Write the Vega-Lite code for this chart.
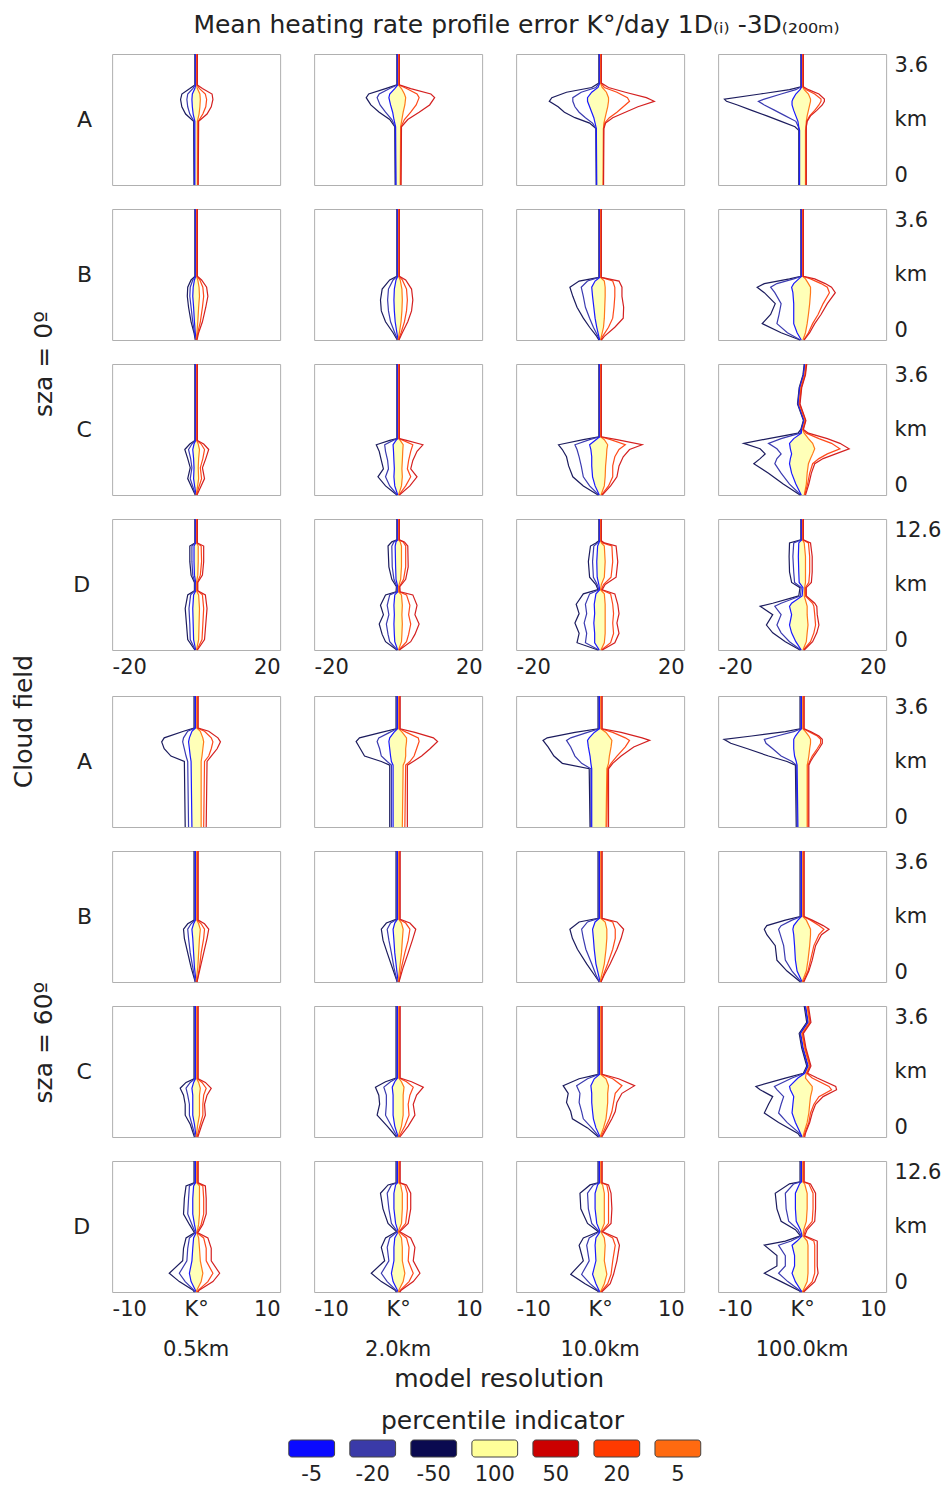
{
  "$schema": "https://vega.github.io/schema/vega-lite/v6.json",
  "padding": {"left": 12, "top": 13, "right": 2, "bottom": 2},
  "title": {"text": "Mean heating rate profile error K°/day  1D₍ᵢ₎ -3D₍₂₀₀ₘ₎", "fontSize": 25, "anchor": "middle", "offset": 13, "dx": 40},
  "resolve": {"scale": {"color": "independent"}},
  "config": {
    "font": "DejaVu Sans",
    "view": {"stroke": "#b0b0b0", "strokeWidth": 1},
    "facet": {"spacing": 32},
    "concat": {"spacing": 18},
    "axis": {"domain": false, "ticks": false, "grid": false, "labelFontSize": 21, "labelColor": "#222", "labelFont": "DejaVu Sans", "labelFlush": true, "labelPadding": 7},
    "header": {"labelFontSize": 22, "labelColor": "#222", "labelFont": "DejaVu Sans", "titleFont": "DejaVu Sans", "titleFontSize": 25, "titleColor": "#222", "titleFontWeight": "normal"},
    "title": {"font": "DejaVu Sans", "fontWeight": "normal", "color": "#222", "fontSize": 25}
  },
  "data": {"values": [
    {"g":0,"f":"A","r":"0.5km","h":3.6,"m50":-0.3,"m20":-0.2,"m5":-0.1,"p5":0.1,"p20":0.2,"p50":0.3},
    {"g":0,"f":"A","r":"0.5km","h":2.75,"m50":-0.3,"m20":-0.2,"m5":-0.1,"p5":0.1,"p20":0.2,"p50":0.3},
    {"g":0,"f":"A","r":"0.5km","h":2.65,"m50":-1.5,"m20":-0.8,"m5":-0.3,"p5":0.3,"p20":0.8,"p50":1.5},
    {"g":0,"f":"A","r":"0.5km","h":2.5,"m50":-3.4,"m20":-2,"m5":-0.9,"p5":0.9,"p20":2.2,"p50":3.8},
    {"g":0,"f":"A","r":"0.5km","h":2.35,"m50":-3.7,"m20":-2.2,"m5":-1,"p5":1,"p20":2.5,"p50":4},
    {"g":0,"f":"A","r":"0.5km","h":2.15,"m50":-3.4,"m20":-2,"m5":-0.9,"p5":0.9,"p20":2.3,"p50":3.6},
    {"g":0,"f":"A","r":"0.5km","h":1.95,"m50":-2.5,"m20":-1.5,"m5":-0.7,"p5":0.7,"p20":1.6,"p50":2.6},
    {"g":0,"f":"A","r":"0.5km","h":1.75,"m50":-0.6,"m20":-0.5,"m5":-0.3,"p5":0.3,"p20":0.5,"p50":0.6},
    {"g":0,"f":"A","r":"0.5km","h":0,"m50":-0.5,"m20":-0.4,"m5":-0.3,"p5":0.3,"p20":0.4,"p50":0.5},

    {"g":0,"f":"A","r":"2.0km","h":3.6,"m50":-0.3,"m20":-0.2,"m5":-0.1,"p5":0.1,"p20":0.2,"p50":0.3},
    {"g":0,"f":"A","r":"2.0km","h":2.75,"m50":-0.3,"m20":-0.2,"m5":-0.1,"p5":0.1,"p20":0.2,"p50":0.3},
    {"g":0,"f":"A","r":"2.0km","h":2.65,"m50":-3,"m20":-2,"m5":-0.8,"p5":0.8,"p20":2,"p50":3},
    {"g":0,"f":"A","r":"2.0km","h":2.5,"m50":-7,"m20":-4.5,"m5":-2,"p5":1.5,"p20":4.5,"p50":7.8},
    {"g":0,"f":"A","r":"2.0km","h":2.4,"m50":-7.6,"m20":-5,"m5":-2.2,"p5":1.8,"p20":5,"p50":8.7},
    {"g":0,"f":"A","r":"2.0km","h":2.2,"m50":-6.5,"m20":-4.3,"m5":-1.8,"p5":1.6,"p20":4.3,"p50":7.5},
    {"g":0,"f":"A","r":"2.0km","h":2,"m50":-4.5,"m20":-3,"m5":-1.3,"p5":1.2,"p20":3,"p50":5},
    {"g":0,"f":"A","r":"2.0km","h":1.8,"m50":-2,"m20":-1.5,"m5":-1,"p5":0.9,"p20":1.5,"p50":2.3},
    {"g":0,"f":"A","r":"2.0km","h":1.6,"m50":-0.8,"m20":-0.7,"m5":-0.6,"p5":0.6,"p20":0.7,"p50":0.8},
    {"g":0,"f":"A","r":"2.0km","h":0,"m50":-0.7,"m20":-0.6,"m5":-0.5,"p5":0.5,"p20":0.6,"p50":0.7},

    {"g":0,"f":"A","r":"10.0km","h":3.6,"m50":-0.3,"m20":-0.2,"m5":-0.1,"p5":0.1,"p20":0.2,"p50":0.3},
    {"g":0,"f":"A","r":"10.0km","h":2.8,"m50":-0.3,"m20":-0.2,"m5":-0.1,"p5":0.1,"p20":0.2,"p50":0.3},
    {"g":0,"f":"A","r":"10.0km","h":2.68,"m50":-2,"m20":-1,"m5":-0.5,"p5":0.5,"p20":1,"p50":2},
    {"g":0,"f":"A","r":"10.0km","h":2.55,"m50":-8,"m20":-4.5,"m5":-2,"p5":1.5,"p20":4,"p50":6},
    {"g":0,"f":"A","r":"10.0km","h":2.4,"m50":-11.5,"m20":-6.5,"m5":-3,"p5":2,"p20":6.5,"p50":11},
    {"g":0,"f":"A","r":"10.0km","h":2.3,"m50":-12.1,"m20":-6.5,"m5":-3,"p5":2,"p20":7,"p50":12.9},
    {"g":0,"f":"A","r":"10.0km","h":2.15,"m50":-10,"m20":-6,"m5":-2.5,"p5":1.8,"p20":5.5,"p50":9},
    {"g":0,"f":"A","r":"10.0km","h":2,"m50":-8.5,"m20":-5,"m5":-2,"p5":1.5,"p20":4,"p50":6},
    {"g":0,"f":"A","r":"10.0km","h":1.85,"m50":-6,"m20":-3.5,"m5":-1.5,"p5":1.2,"p20":2.2,"p50":3},
    {"g":0,"f":"A","r":"10.0km","h":1.7,"m50":-2.5,"m20":-1.8,"m5":-1.2,"p5":0.9,"p20":1.1,"p50":1.3},
    {"g":0,"f":"A","r":"10.0km","h":1.55,"m50":-1,"m20":-1,"m5":-0.9,"p5":0.8,"p20":0.8,"p50":0.9},
    {"g":0,"f":"A","r":"10.0km","h":0,"m50":-0.9,"m20":-0.9,"m5":-0.8,"p5":0.7,"p20":0.8,"p50":0.8},

    {"g":0,"f":"A","r":"100.0km","h":3.6,"m50":-0.3,"m20":-0.2,"m5":-0.1,"p5":0.1,"p20":0.2,"p50":0.3},
    {"g":0,"f":"A","r":"100.0km","h":2.7,"m50":-0.3,"m20":-0.2,"m5":-0.1,"p5":0.1,"p20":0.2,"p50":0.3},
    {"g":0,"f":"A","r":"100.0km","h":2.62,"m50":-3,"m20":-1.5,"m5":-0.5,"p5":0.5,"p20":1,"p50":1.5},
    {"g":0,"f":"A","r":"100.0km","h":2.5,"m50":-10,"m20":-5,"m5":-1.5,"p5":1.5,"p20":3,"p50":4},
    {"g":0,"f":"A","r":"100.0km","h":2.36,"m50":-18.5,"m20":-9,"m5":-2.2,"p5":2,"p20":4.5,"p50":5.3},
    {"g":0,"f":"A","r":"100.0km","h":2.3,"m50":-18,"m20":-10.4,"m5":-2.4,"p5":2,"p20":4.5,"p50":5.3},
    {"g":0,"f":"A","r":"100.0km","h":2.2,"m50":-15.4,"m20":-9,"m5":-2.4,"p5":1.8,"p20":4,"p50":4.8},
    {"g":0,"f":"A","r":"100.0km","h":2.05,"m50":-12,"m20":-6.5,"m5":-2,"p5":1.5,"p20":3,"p50":3.5},
    {"g":0,"f":"A","r":"100.0km","h":1.9,"m50":-8.4,"m20":-4,"m5":-1.5,"p5":1.2,"p20":1.8,"p50":2},
    {"g":0,"f":"A","r":"100.0km","h":1.75,"m50":-5,"m20":-1.5,"m5":-1,"p5":1,"p20":1.1,"p50":1.2},
    {"g":0,"f":"A","r":"100.0km","h":1.6,"m50":-1.7,"m20":-0.9,"m5":-0.8,"p5":0.9,"p20":1,"p50":1},
    {"g":0,"f":"A","r":"100.0km","h":1.5,"m50":-0.8,"m20":-0.7,"m5":-0.6,"p5":0.8,"p20":0.9,"p50":1},
    {"g":0,"f":"A","r":"100.0km","h":0,"m50":-0.8,"m20":-0.7,"m5":-0.6,"p5":0.8,"p20":0.9,"p50":1},

    {"g":0,"f":"B","r":"0.5km","h":3.6,"m50":-0.3,"m20":-0.2,"m5":-0.1,"p5":0.1,"p20":0.2,"p50":0.3},
    {"g":0,"f":"B","r":"0.5km","h":1.75,"m50":-0.3,"m20":-0.2,"m5":-0.1,"p5":0.1,"p20":0.2,"p50":0.3},
    {"g":0,"f":"B","r":"0.5km","h":1.65,"m50":-1.2,"m20":-0.8,"m5":-0.4,"p5":0.4,"p20":0.9,"p50":1.3},
    {"g":0,"f":"B","r":"0.5km","h":1.45,"m50":-2,"m20":-1.4,"m5":-0.7,"p5":0.7,"p20":1.6,"p50":2.5},
    {"g":0,"f":"B","r":"0.5km","h":1.2,"m50":-2.1,"m20":-1.5,"m5":-0.8,"p5":0.8,"p20":1.8,"p50":2.8},
    {"g":0,"f":"B","r":"0.5km","h":0.9,"m50":-1.8,"m20":-1.2,"m5":-0.6,"p5":0.6,"p20":1.5,"p50":2.3},
    {"g":0,"f":"B","r":"0.5km","h":0.5,"m50":-1.2,"m20":-0.8,"m5":-0.4,"p5":0.4,"p20":1,"p50":1.5},
    {"g":0,"f":"B","r":"0.5km","h":0.2,"m50":-0.5,"m20":-0.4,"m5":-0.2,"p5":0.2,"p20":0.4,"p50":0.6},
    {"g":0,"f":"B","r":"0.5km","h":0,"m50":-0.2,"m20":-0.1,"m5":0,"p5":0,"p20":0.1,"p50":0.2},

    {"g":0,"f":"B","r":"2.0km","h":3.6,"m50":-0.3,"m20":-0.2,"m5":-0.1,"p5":0.1,"p20":0.2,"p50":0.3},
    {"g":0,"f":"B","r":"2.0km","h":1.75,"m50":-0.3,"m20":-0.2,"m5":-0.1,"p5":0.1,"p20":0.2,"p50":0.3},
    {"g":0,"f":"B","r":"2.0km","h":1.65,"m50":-2,"m20":-1.2,"m5":-0.5,"p5":0.5,"p20":1,"p50":1.8},
    {"g":0,"f":"B","r":"2.0km","h":1.4,"m50":-3.8,"m20":-2.3,"m5":-0.9,"p5":0.9,"p20":2,"p50":3.2},
    {"g":0,"f":"B","r":"2.0km","h":1.1,"m50":-4.2,"m20":-2.5,"m5":-1,"p5":1,"p20":2.2,"p50":3.5},
    {"g":0,"f":"B","r":"2.0km","h":0.8,"m50":-4,"m20":-2.3,"m5":-0.9,"p5":0.9,"p20":2,"p50":3.2},
    {"g":0,"f":"B","r":"2.0km","h":0.5,"m50":-3,"m20":-1.8,"m5":-0.7,"p5":0.7,"p20":1.5,"p50":2.3},
    {"g":0,"f":"B","r":"2.0km","h":0.2,"m50":-1.2,"m20":-0.8,"m5":-0.3,"p5":0.3,"p20":0.7,"p50":1},
    {"g":0,"f":"B","r":"2.0km","h":0,"m50":-0.2,"m20":-0.1,"m5":0,"p5":0,"p20":0.1,"p50":0.2},

    {"g":0,"f":"B","r":"10.0km","h":3.6,"m50":-0.3,"m20":-0.2,"m5":-0.1,"p5":0.1,"p20":0.2,"p50":0.3},
    {"g":0,"f":"B","r":"10.0km","h":1.72,"m50":-0.3,"m20":-0.2,"m5":-0.1,"p5":0.1,"p20":0.2,"p50":0.3},
    {"g":0,"f":"B","r":"10.0km","h":1.62,"m50":-5,"m20":-3,"m5":-1.2,"p5":1,"p20":3,"p50":4.5},
    {"g":0,"f":"B","r":"10.0km","h":1.45,"m50":-7.2,"m20":-4.5,"m5":-2,"p5":1.2,"p20":3.5,"p50":5.2},
    {"g":0,"f":"B","r":"10.0km","h":1.2,"m50":-6.5,"m20":-4,"m5":-1.8,"p5":1.2,"p20":3.5,"p50":5.2},
    {"g":0,"f":"B","r":"10.0km","h":0.9,"m50":-5.5,"m20":-3.5,"m5":-1.5,"p5":1.1,"p20":3.3,"p50":5.6},
    {"g":0,"f":"B","r":"10.0km","h":0.6,"m50":-4,"m20":-2.5,"m5":-1.2,"p5":1,"p20":3,"p50":5.5},
    {"g":0,"f":"B","r":"10.0km","h":0.35,"m50":-2.5,"m20":-1.6,"m5":-0.8,"p5":0.8,"p20":2,"p50":3.5},
    {"g":0,"f":"B","r":"10.0km","h":0.1,"m50":-0.8,"m20":-0.5,"m5":-0.3,"p5":0.3,"p20":0.6,"p50":1},
    {"g":0,"f":"B","r":"10.0km","h":0,"m50":-0.3,"m20":-0.2,"m5":-0.1,"p5":0.1,"p20":0.2,"p50":0.3},

    {"g":0,"f":"B","r":"100.0km","h":3.6,"m50":-0.3,"m20":-0.2,"m5":-0.1,"p5":0.1,"p20":0.2,"p50":0.3},
    {"g":0,"f":"B","r":"100.0km","h":1.75,"m50":-0.3,"m20":-0.2,"m5":-0.1,"p5":0.1,"p20":0.2,"p50":0.3},
    {"g":0,"f":"B","r":"100.0km","h":1.68,"m50":-3,"m20":-2,"m5":-0.8,"p5":0.8,"p20":2,"p50":3},
    {"g":0,"f":"B","r":"100.0km","h":1.55,"m50":-9,"m20":-6,"m5":-2,"p5":1.5,"p20":4.5,"p50":5.5},
    {"g":0,"f":"B","r":"100.0km","h":1.45,"m50":-10.7,"m20":-7.5,"m5":-2.5,"p5":2,"p20":6,"p50":7},
    {"g":0,"f":"B","r":"100.0km","h":1.3,"m50":-9,"m20":-6.5,"m5":-2.2,"p5":2,"p20":6.5,"p50":7.9},
    {"g":0,"f":"B","r":"100.0km","h":1,"m50":-6.4,"m20":-5,"m5":-2,"p5":1.8,"p20":5,"p50":6},
    {"g":0,"f":"B","r":"100.0km","h":0.7,"m50":-7.5,"m20":-5.5,"m5":-2,"p5":1.5,"p20":3.8,"p50":4.5},
    {"g":0,"f":"B","r":"100.0km","h":0.45,"m50":-9.5,"m20":-6,"m5":-2,"p5":1.2,"p20":2.5,"p50":3},
    {"g":0,"f":"B","r":"100.0km","h":0.2,"m50":-5,"m20":-3.5,"m5":-1.2,"p5":0.8,"p20":1.5,"p50":1.8},
    {"g":0,"f":"B","r":"100.0km","h":0,"m50":-0.5,"m20":-0.4,"m5":-0.2,"p5":0.2,"p20":0.4,"p50":0.5},

    {"g":0,"f":"C","r":"0.5km","h":3.6,"m50":-0.3,"m20":-0.2,"m5":-0.1,"p5":0.1,"p20":0.2,"p50":0.3},
    {"g":0,"f":"C","r":"0.5km","h":1.5,"m50":-0.3,"m20":-0.2,"m5":-0.1,"p5":0.1,"p20":0.2,"p50":0.3},
    {"g":0,"f":"C","r":"0.5km","h":1.4,"m50":-1.5,"m20":-1,"m5":-0.5,"p5":0.5,"p20":1.2,"p50":1.8},
    {"g":0,"f":"C","r":"0.5km","h":1.25,"m50":-2.7,"m20":-1.8,"m5":-0.8,"p5":0.8,"p20":2,"p50":3},
    {"g":0,"f":"C","r":"0.5km","h":1,"m50":-2,"m20":-1.3,"m5":-0.6,"p5":0.6,"p20":1.6,"p50":2.3},
    {"g":0,"f":"C","r":"0.5km","h":0.75,"m50":-1.4,"m20":-1,"m5":-0.5,"p5":0.5,"p20":1,"p50":1.5},
    {"g":0,"f":"C","r":"0.5km","h":0.45,"m50":-2,"m20":-1.4,"m5":-0.6,"p5":0.6,"p20":1.3,"p50":2},
    {"g":0,"f":"C","r":"0.5km","h":0.2,"m50":-1,"m20":-0.7,"m5":-0.3,"p5":0.3,"p20":0.6,"p50":1},
    {"g":0,"f":"C","r":"0.5km","h":0,"m50":-0.2,"m20":-0.1,"m5":0,"p5":0,"p20":0.1,"p50":0.2},

    {"g":0,"f":"C","r":"2.0km","h":3.6,"m50":-0.3,"m20":-0.2,"m5":-0.1,"p5":0.1,"p20":0.2,"p50":0.3},
    {"g":0,"f":"C","r":"2.0km","h":1.55,"m50":-0.3,"m20":-0.2,"m5":-0.1,"p5":0.1,"p20":0.2,"p50":0.3},
    {"g":0,"f":"C","r":"2.0km","h":1.5,"m50":-2,"m20":-1.2,"m5":-0.5,"p5":0.5,"p20":1.2,"p50":2},
    {"g":0,"f":"C","r":"2.0km","h":1.38,"m50":-5.2,"m20":-3.2,"m5":-1.2,"p5":1.2,"p20":3.5,"p50":5.9},
    {"g":0,"f":"C","r":"2.0km","h":1.2,"m50":-4.5,"m20":-3,"m5":-1.1,"p5":1.1,"p20":3,"p50":4.5},
    {"g":0,"f":"C","r":"2.0km","h":0.95,"m50":-4,"m20":-2.5,"m5":-1,"p5":1,"p20":2.5,"p50":3.5},
    {"g":0,"f":"C","r":"2.0km","h":0.72,"m50":-3.5,"m20":-2.3,"m5":-0.9,"p5":0.9,"p20":2.2,"p50":3},
    {"g":0,"f":"C","r":"2.0km","h":0.5,"m50":-4.8,"m20":-3,"m5":-1,"p5":1,"p20":3,"p50":4.5},
    {"g":0,"f":"C","r":"2.0km","h":0.25,"m50":-3,"m20":-2,"m5":-0.8,"p5":0.8,"p20":1.8,"p50":2.8},
    {"g":0,"f":"C","r":"2.0km","h":0,"m50":-0.3,"m20":-0.2,"m5":-0.1,"p5":0.1,"p20":0.2,"p50":0.3},

    {"g":0,"f":"C","r":"10.0km","h":3.6,"m50":-0.3,"m20":-0.2,"m5":-0.1,"p5":0.1,"p20":0.2,"p50":0.3},
    {"g":0,"f":"C","r":"10.0km","h":1.6,"m50":-0.3,"m20":-0.2,"m5":-0.1,"p5":0.1,"p20":0.2,"p50":0.3},
    {"g":0,"f":"C","r":"10.0km","h":1.52,"m50":-4,"m20":-2.5,"m5":-1,"p5":1,"p20":2.5,"p50":4},
    {"g":0,"f":"C","r":"10.0km","h":1.38,"m50":-9.9,"m20":-6,"m5":-2.5,"p5":1.8,"p20":6,"p50":10},
    {"g":0,"f":"C","r":"10.0km","h":1.25,"m50":-9,"m20":-5.5,"m5":-2.2,"p5":1.6,"p20":4.5,"p50":7},
    {"g":0,"f":"C","r":"10.0km","h":1.05,"m50":-8,"m20":-5,"m5":-2,"p5":1.5,"p20":3.5,"p50":5.5},
    {"g":0,"f":"C","r":"10.0km","h":0.8,"m50":-7.5,"m20":-4.5,"m5":-2,"p5":1.3,"p20":3,"p50":4.5},
    {"g":0,"f":"C","r":"10.0km","h":0.5,"m50":-6.5,"m20":-4,"m5":-1.8,"p5":1.2,"p20":3,"p50":4},
    {"g":0,"f":"C","r":"10.0km","h":0.25,"m50":-4,"m20":-2.5,"m5":-1.2,"p5":1,"p20":2,"p50":2.5},
    {"g":0,"f":"C","r":"10.0km","h":0,"m50":-0.5,"m20":-0.3,"m5":-0.2,"p5":0.2,"p20":0.3,"p50":0.5},

    {"g":0,"f":"C","r":"100.0km","h":3.6,"m50":0.5,"m20":0.6,"m5":0.7,"p5":0.9,"p20":1,"p50":1.1},
    {"g":0,"f":"C","r":"100.0km","h":3.3,"m50":0.2,"m20":0.3,"m5":0.4,"p5":0.6,"p20":0.7,"p50":0.8},
    {"g":0,"f":"C","r":"100.0km","h":2.95,"m50":-0.7,"m20":-0.6,"m5":-0.5,"p5":-0.3,"p20":-0.2,"p50":-0.1},
    {"g":0,"f":"C","r":"100.0km","h":2.5,"m50":-1.1,"m20":-1,"m5":-0.9,"p5":-0.7,"p20":-0.6,"p50":-0.5},
    {"g":0,"f":"C","r":"100.0km","h":2.05,"m50":0.3,"m20":0.4,"m5":0.5,"p5":0.7,"p20":0.8,"p50":0.9},
    {"g":0,"f":"C","r":"100.0km","h":1.8,"m50":-0.3,"m20":-0.2,"m5":-0.1,"p5":0.1,"p20":0.2,"p50":0.3},
    {"g":0,"f":"C","r":"100.0km","h":1.7,"m50":-1,"m20":-0.5,"m5":-0.2,"p5":0.5,"p20":1,"p50":1.5},
    {"g":0,"f":"C","r":"100.0km","h":1.55,"m50":-8,"m20":-5,"m5":-2,"p5":1.5,"p20":4,"p50":6},
    {"g":0,"f":"C","r":"100.0km","h":1.42,"m50":-13.9,"m20":-8,"m5":-3,"p5":2.5,"p20":7,"p50":9},
    {"g":0,"f":"C","r":"100.0km","h":1.27,"m50":-10,"m20":-6,"m5":-2.8,"p5":3,"p20":9,"p50":11.2},
    {"g":0,"f":"C","r":"100.0km","h":1.13,"m50":-8.8,"m20":-5,"m5":-2.5,"p5":2.5,"p20":6,"p50":8},
    {"g":0,"f":"C","r":"100.0km","h":1,"m50":-10,"m20":-6,"m5":-2.8,"p5":2,"p20":4,"p50":5},
    {"g":0,"f":"C","r":"100.0km","h":0.86,"m50":-11.5,"m20":-6.5,"m5":-3,"p5":1.5,"p20":2.5,"p50":3},
    {"g":0,"f":"C","r":"100.0km","h":0.6,"m50":-8,"m20":-5,"m5":-2.5,"p5":1.2,"p20":1.8,"p50":2.2},
    {"g":0,"f":"C","r":"100.0km","h":0.3,"m50":-4.5,"m20":-3,"m5":-1.5,"p5":1,"p20":1.3,"p50":1.6},
    {"g":0,"f":"C","r":"100.0km","h":0,"m50":-0.5,"m20":-0.3,"m5":-0.2,"p5":0.5,"p20":0.6,"p50":0.8},

    {"g":0,"f":"D","r":"0.5km","h":12.6,"m50":-0.3,"m20":-0.2,"m5":-0.1,"p5":0.1,"p20":0.2,"p50":0.3},
    {"g":0,"f":"D","r":"0.5km","h":10.3,"m50":-0.3,"m20":-0.2,"m5":-0.1,"p5":0.1,"p20":0.2,"p50":0.3},
    {"g":0,"f":"D","r":"0.5km","h":10,"m50":-1.5,"m20":-1,"m5":-0.5,"p5":0.5,"p20":1.2,"p50":1.8},
    {"g":0,"f":"D","r":"0.5km","h":8.5,"m50":-1.5,"m20":-1,"m5":-0.5,"p5":0.5,"p20":1.3,"p50":1.8},
    {"g":0,"f":"D","r":"0.5km","h":7.2,"m50":-1.2,"m20":-0.8,"m5":-0.4,"p5":0.4,"p20":1,"p50":1.5},
    {"g":0,"f":"D","r":"0.5km","h":6.5,"m50":-0.4,"m20":-0.3,"m5":-0.1,"p5":0.1,"p20":0.3,"p50":0.4},
    {"g":0,"f":"D","r":"0.5km","h":5.7,"m50":-0.4,"m20":-0.3,"m5":-0.1,"p5":0.1,"p20":0.3,"p50":0.4},
    {"g":0,"f":"D","r":"0.5km","h":5.3,"m50":-2,"m20":-1.3,"m5":-0.6,"p5":0.6,"p20":1.5,"p50":2.2},
    {"g":0,"f":"D","r":"0.5km","h":4,"m50":-2.6,"m20":-1.7,"m5":-0.8,"p5":0.8,"p20":1.8,"p50":2.6},
    {"g":0,"f":"D","r":"0.5km","h":2.5,"m50":-2.3,"m20":-1.5,"m5":-0.7,"p5":0.7,"p20":1.6,"p50":2.3},
    {"g":0,"f":"D","r":"0.5km","h":1,"m50":-2,"m20":-1.4,"m5":-0.6,"p5":0.6,"p20":1.4,"p50":2},
    {"g":0,"f":"D","r":"0.5km","h":0,"m50":-0.3,"m20":-0.2,"m5":-0.1,"p5":0.1,"p20":0.2,"p50":0.3},

    {"g":0,"f":"D","r":"2.0km","h":12.6,"m50":-0.3,"m20":-0.2,"m5":-0.1,"p5":0.1,"p20":0.2,"p50":0.3},
    {"g":0,"f":"D","r":"2.0km","h":10.6,"m50":-0.3,"m20":-0.2,"m5":-0.1,"p5":0.1,"p20":0.2,"p50":0.3},
    {"g":0,"f":"D","r":"2.0km","h":10.4,"m50":-1.5,"m20":-1,"m5":-0.5,"p5":0.5,"p20":1.2,"p50":1.5},
    {"g":0,"f":"D","r":"2.0km","h":10,"m50":-2.4,"m20":-1.5,"m5":-0.7,"p5":0.8,"p20":1.8,"p50":2.3},
    {"g":0,"f":"D","r":"2.0km","h":8,"m50":-2.2,"m20":-1.4,"m5":-0.6,"p5":0.8,"p20":1.8,"p50":2.4},
    {"g":0,"f":"D","r":"2.0km","h":6.8,"m50":-1.5,"m20":-1,"m5":-0.5,"p5":0.6,"p20":1.3,"p50":1.8},
    {"g":0,"f":"D","r":"2.0km","h":6.1,"m50":-0.4,"m20":-0.3,"m5":-0.1,"p5":0.1,"p20":0.3,"p50":0.4},
    {"g":0,"f":"D","r":"2.0km","h":5.6,"m50":-0.5,"m20":-0.3,"m5":-0.1,"p5":0.1,"p20":0.3,"p50":0.5},
    {"g":0,"f":"D","r":"2.0km","h":5.3,"m50":-3,"m20":-2,"m5":-0.8,"p5":0.8,"p20":2,"p50":3.5},
    {"g":0,"f":"D","r":"2.0km","h":4.3,"m50":-4.2,"m20":-2.6,"m5":-1,"p5":1,"p20":2.8,"p50":4.5},
    {"g":0,"f":"D","r":"2.0km","h":3.4,"m50":-3.5,"m20":-2.2,"m5":-0.9,"p5":0.9,"p20":2.5,"p50":4},
    {"g":0,"f":"D","r":"2.0km","h":2.5,"m50":-4.5,"m20":-2.8,"m5":-1,"p5":1,"p20":3,"p50":5},
    {"g":0,"f":"D","r":"2.0km","h":1.5,"m50":-3.8,"m20":-2.4,"m5":-0.9,"p5":0.9,"p20":2.5,"p50":4},
    {"g":0,"f":"D","r":"2.0km","h":0.8,"m50":-3,"m20":-2,"m5":-0.8,"p5":0.8,"p20":2,"p50":3},
    {"g":0,"f":"D","r":"2.0km","h":0,"m50":-0.3,"m20":-0.2,"m5":-0.1,"p5":0.1,"p20":0.2,"p50":0.3},

    {"g":0,"f":"D","r":"10.0km","h":12.6,"m50":-0.3,"m20":-0.2,"m5":-0.1,"p5":0.1,"p20":0.2,"p50":0.3},
    {"g":0,"f":"D","r":"10.0km","h":10.5,"m50":-0.3,"m20":-0.2,"m5":-0.1,"p5":0.1,"p20":0.2,"p50":0.3},
    {"g":0,"f":"D","r":"10.0km","h":10.3,"m50":-1,"m20":-0.6,"m5":-0.3,"p5":0.3,"p20":0.6,"p50":1},
    {"g":0,"f":"D","r":"10.0km","h":10,"m50":-2.3,"m20":-1.5,"m5":-0.6,"p5":1,"p20":2.8,"p50":3.8},
    {"g":0,"f":"D","r":"10.0km","h":8.5,"m50":-2.8,"m20":-1.8,"m5":-0.8,"p5":1.2,"p20":3,"p50":4.2},
    {"g":0,"f":"D","r":"10.0km","h":7,"m50":-2.5,"m20":-1.6,"m5":-0.7,"p5":1,"p20":2.6,"p50":3.8},
    {"g":0,"f":"D","r":"10.0km","h":6.3,"m50":-1,"m20":-0.7,"m5":-0.3,"p5":0.3,"p20":0.8,"p50":1.2},
    {"g":0,"f":"D","r":"10.0km","h":5.8,"m50":-0.5,"m20":-0.3,"m5":-0.1,"p5":0.1,"p20":0.3,"p50":0.5},
    {"g":0,"f":"D","r":"10.0km","h":5.4,"m50":-4,"m20":-2.5,"m5":-1,"p5":1,"p20":2.5,"p50":3.5},
    {"g":0,"f":"D","r":"10.0km","h":4.4,"m50":-5.7,"m20":-3.5,"m5":-1.4,"p5":1.2,"p20":3,"p50":4.2},
    {"g":0,"f":"D","r":"10.0km","h":3.5,"m50":-5,"m20":-3.2,"m5":-1.3,"p5":1.2,"p20":3.2,"p50":4.5},
    {"g":0,"f":"D","r":"10.0km","h":2.6,"m50":-6,"m20":-3.8,"m5":-1.5,"p5":1.2,"p20":3,"p50":4},
    {"g":0,"f":"D","r":"10.0km","h":1.6,"m50":-5,"m20":-3.2,"m5":-1.3,"p5":1.2,"p20":3.2,"p50":4.5},
    {"g":0,"f":"D","r":"10.0km","h":0.7,"m50":-5.5,"m20":-3.5,"m5":-1.3,"p5":1,"p20":2.5,"p50":3.5},
    {"g":0,"f":"D","r":"10.0km","h":0,"m50":-0.5,"m20":-0.3,"m5":-0.2,"p5":0.2,"p20":0.3,"p50":0.5},

    {"g":0,"f":"D","r":"100.0km","h":12.6,"m50":-0.3,"m20":-0.2,"m5":-0.1,"p5":0.1,"p20":0.2,"p50":0.3},
    {"g":0,"f":"D","r":"100.0km","h":10.6,"m50":-0.3,"m20":-0.2,"m5":-0.1,"p5":0.1,"p20":0.2,"p50":0.3},
    {"g":0,"f":"D","r":"100.0km","h":10.3,"m50":-3,"m20":-2,"m5":-0.8,"p5":0.5,"p20":1.5,"p50":2},
    {"g":0,"f":"D","r":"100.0km","h":9,"m50":-3.1,"m20":-2.2,"m5":-0.9,"p5":0.8,"p20":1.8,"p50":2.4},
    {"g":0,"f":"D","r":"100.0km","h":7.5,"m50":-3,"m20":-2,"m5":-0.8,"p5":0.8,"p20":1.8,"p50":2.4},
    {"g":0,"f":"D","r":"100.0km","h":6.5,"m50":-2.5,"m20":-1.8,"m5":-0.7,"p5":0.8,"p20":1.6,"p50":2.2},
    {"g":0,"f":"D","r":"100.0km","h":6,"m50":-0.5,"m20":-0.2,"m5":0.2,"p5":0.6,"p20":0.8,"p50":1},
    {"g":0,"f":"D","r":"100.0km","h":5.2,"m50":-0.8,"m20":-0.4,"m5":0,"p5":0.5,"p20":0.8,"p50":1},
    {"g":0,"f":"D","r":"100.0km","h":4.5,"m50":-7,"m20":-5,"m5":-2.5,"p5":1,"p20":2.5,"p50":3},
    {"g":0,"f":"D","r":"100.0km","h":4.2,"m50":-10,"m20":-6.5,"m5":-3,"p5":1.2,"p20":2.8,"p50":3.5},
    {"g":0,"f":"D","r":"100.0km","h":3.4,"m50":-7,"m20":-5,"m5":-2.5,"p5":1.2,"p20":3,"p50":3.6},
    {"g":0,"f":"D","r":"100.0km","h":2.4,"m50":-8.5,"m20":-6,"m5":-3,"p5":1.4,"p20":3.2,"p50":4},
    {"g":0,"f":"D","r":"100.0km","h":1.65,"m50":-7,"m20":-5,"m5":-2.5,"p5":1.2,"p20":2.8,"p50":3.5},
    {"g":0,"f":"D","r":"100.0km","h":0.8,"m50":-4,"m20":-3,"m5":-1.5,"p5":1,"p20":2,"p50":2.5},
    {"g":0,"f":"D","r":"100.0km","h":0,"m50":-0.5,"m20":-0.3,"m5":-0.2,"p5":0.2,"p20":0.3,"p50":0.5},

    {"g":60,"f":"A","r":"0.5km","h":3.6,"m50":-0.25,"m20":-0.15,"m5":-0.08,"p5":0.08,"p20":0.15,"p50":0.25},
    {"g":60,"f":"A","r":"0.5km","h":2.72,"m50":-0.25,"m20":-0.15,"m5":-0.08,"p5":0.08,"p20":0.15,"p50":0.25},
    {"g":60,"f":"A","r":"0.5km","h":2.63,"m50":-1.5,"m20":-1,"m5":-0.5,"p5":0.5,"p20":1,"p50":1.5},
    {"g":60,"f":"A","r":"0.5km","h":2.45,"m50":-3.8,"m20":-1.5,"m5":-0.8,"p5":0.8,"p20":1.8,"p50":2.6},
    {"g":60,"f":"A","r":"0.5km","h":2.34,"m50":-4.1,"m20":-1.6,"m5":-0.9,"p5":0.9,"p20":2,"p50":2.9},
    {"g":60,"f":"A","r":"0.5km","h":2.15,"m50":-3.8,"m20":-1.4,"m5":-0.8,"p5":0.8,"p20":1.8,"p50":2.5},
    {"g":60,"f":"A","r":"0.5km","h":1.95,"m50":-3,"m20":-1.2,"m5":-0.7,"p5":0.7,"p20":1.5,"p50":1.8},
    {"g":60,"f":"A","r":"0.5km","h":1.8,"m50":-1.4,"m20":-1,"m5":-0.6,"p5":0.6,"p20":1,"p50":1.3},
    {"g":60,"f":"A","r":"0.5km","h":0,"m50":-1.3,"m20":-0.9,"m5":-0.5,"p5":0.6,"p20":0.9,"p50":1.2},

    {"g":60,"f":"A","r":"2.0km","h":3.6,"m50":-0.25,"m20":-0.15,"m5":-0.08,"p5":0.08,"p20":0.15,"p50":0.25},
    {"g":60,"f":"A","r":"2.0km","h":2.7,"m50":-0.25,"m20":-0.15,"m5":-0.08,"p5":0.08,"p20":0.15,"p50":0.25},
    {"g":60,"f":"A","r":"2.0km","h":2.6,"m50":-2,"m20":-1,"m5":-0.5,"p5":0.5,"p20":1,"p50":2},
    {"g":60,"f":"A","r":"2.0km","h":2.45,"m50":-4.6,"m20":-2.3,"m5":-1,"p5":1,"p20":2.4,"p50":4.2},
    {"g":60,"f":"A","r":"2.0km","h":2.35,"m50":-5,"m20":-2.5,"m5":-1.1,"p5":1,"p20":2.5,"p50":4.7},
    {"g":60,"f":"A","r":"2.0km","h":2.15,"m50":-4.5,"m20":-2.2,"m5":-1,"p5":0.9,"p20":2.2,"p50":3.8},
    {"g":60,"f":"A","r":"2.0km","h":1.95,"m50":-4,"m20":-2,"m5":-0.9,"p5":0.9,"p20":1.9,"p50":2.8},
    {"g":60,"f":"A","r":"2.0km","h":1.8,"m50":-2,"m20":-1.3,"m5":-0.8,"p5":0.8,"p20":1.4,"p50":1.8},
    {"g":60,"f":"A","r":"2.0km","h":1.7,"m50":-1,"m20":-0.8,"m5":-0.6,"p5":0.6,"p20":0.9,"p50":1.1},
    {"g":60,"f":"A","r":"2.0km","h":0,"m50":-1,"m20":-0.8,"m5":-0.6,"p5":0.5,"p20":0.8,"p50":1.1},

    {"g":60,"f":"A","r":"10.0km","h":3.6,"m50":-0.25,"m20":-0.15,"m5":-0.08,"p5":0.08,"p20":0.15,"p50":0.25},
    {"g":60,"f":"A","r":"10.0km","h":2.7,"m50":-0.25,"m20":-0.15,"m5":-0.08,"p5":0.08,"p20":0.15,"p50":0.25},
    {"g":60,"f":"A","r":"10.0km","h":2.6,"m50":-3,"m20":-1.5,"m5":-0.7,"p5":0.7,"p20":1.5,"p50":2.5},
    {"g":60,"f":"A","r":"10.0km","h":2.45,"m50":-6.3,"m20":-3.5,"m5":-1.3,"p5":1.2,"p20":3,"p50":5},
    {"g":60,"f":"A","r":"10.0km","h":2.38,"m50":-6.8,"m20":-4,"m5":-1.5,"p5":1.4,"p20":3.5,"p50":5.9},
    {"g":60,"f":"A","r":"10.0km","h":2.2,"m50":-6.2,"m20":-3.5,"m5":-1.4,"p5":1.3,"p20":3,"p50":4},
    {"g":60,"f":"A","r":"10.0km","h":1.95,"m50":-5.5,"m20":-3,"m5":-1.2,"p5":1.1,"p20":2,"p50":2.5},
    {"g":60,"f":"A","r":"10.0km","h":1.75,"m50":-4.5,"m20":-2.2,"m5":-1.1,"p5":1,"p20":1.3,"p50":1.5},
    {"g":60,"f":"A","r":"10.0km","h":1.6,"m50":-1.3,"m20":-1.1,"m5":-1,"p5":0.8,"p20":0.9,"p50":1},
    {"g":60,"f":"A","r":"10.0km","h":0,"m50":-1.2,"m20":-1.1,"m5":-1,"p5":0.7,"p20":0.8,"p50":1},

    {"g":60,"f":"A","r":"100.0km","h":3.6,"m50":-0.25,"m20":-0.15,"m5":-0.08,"p5":0.08,"p20":0.15,"p50":0.25},
    {"g":60,"f":"A","r":"100.0km","h":2.7,"m50":-0.25,"m20":-0.15,"m5":-0.08,"p5":0.08,"p20":0.15,"p50":0.25},
    {"g":60,"f":"A","r":"100.0km","h":2.62,"m50":-2,"m20":-1,"m5":-0.4,"p5":0.4,"p20":0.8,"p50":1},
    {"g":60,"f":"A","r":"100.0km","h":2.5,"m50":-6,"m20":-3,"m5":-0.8,"p5":0.8,"p20":1.8,"p50":2},
    {"g":60,"f":"A","r":"100.0km","h":2.41,"m50":-9.3,"m20":-4.5,"m5":-1,"p5":1,"p20":2.2,"p50":2.4},
    {"g":60,"f":"A","r":"100.0km","h":2.3,"m50":-8.5,"m20":-4.3,"m5":-1,"p5":1,"p20":2.2,"p50":2.4},
    {"g":60,"f":"A","r":"100.0km","h":2.15,"m50":-6.5,"m20":-3.5,"m5":-1,"p5":0.9,"p20":1.8,"p50":2},
    {"g":60,"f":"A","r":"100.0km","h":1.95,"m50":-4,"m20":-2.5,"m5":-0.9,"p5":0.8,"p20":1.2,"p50":1.4},
    {"g":60,"f":"A","r":"100.0km","h":1.8,"m50":-1.8,"m20":-1.2,"m5":-0.7,"p5":0.7,"p20":0.9,"p50":1},
    {"g":60,"f":"A","r":"100.0km","h":1.7,"m50":-0.8,"m20":-0.7,"m5":-0.6,"p5":0.6,"p20":0.7,"p50":0.8},
    {"g":60,"f":"A","r":"100.0km","h":0,"m50":-0.7,"m20":-0.6,"m5":-0.5,"p5":0.6,"p20":0.7,"p50":0.8},

    {"g":60,"f":"B","r":"0.5km","h":3.6,"m50":-0.25,"m20":-0.15,"m5":-0.08,"p5":0.08,"p20":0.15,"p50":0.25},
    {"g":60,"f":"B","r":"0.5km","h":1.7,"m50":-0.25,"m20":-0.15,"m5":-0.08,"p5":0.08,"p20":0.15,"p50":0.25},
    {"g":60,"f":"B","r":"0.5km","h":1.6,"m50":-1,"m20":-0.6,"m5":-0.3,"p5":0.3,"p20":0.6,"p50":1},
    {"g":60,"f":"B","r":"0.5km","h":1.45,"m50":-1.5,"m20":-1,"m5":-0.5,"p5":0.5,"p20":1,"p50":1.5},
    {"g":60,"f":"B","r":"0.5km","h":1.2,"m50":-1.4,"m20":-0.9,"m5":-0.4,"p5":0.4,"p20":0.9,"p50":1.3},
    {"g":60,"f":"B","r":"0.5km","h":0.8,"m50":-1,"m20":-0.7,"m5":-0.3,"p5":0.3,"p20":0.6,"p50":0.9},
    {"g":60,"f":"B","r":"0.5km","h":0.4,"m50":-0.6,"m20":-0.4,"m5":-0.2,"p5":0.2,"p20":0.4,"p50":0.5},
    {"g":60,"f":"B","r":"0.5km","h":0,"m50":-0.1,"m20":-0.1,"m5":0,"p5":0,"p20":0.1,"p50":0.1},

    {"g":60,"f":"B","r":"2.0km","h":3.6,"m50":-0.25,"m20":-0.15,"m5":-0.08,"p5":0.08,"p20":0.15,"p50":0.25},
    {"g":60,"f":"B","r":"2.0km","h":1.72,"m50":-0.25,"m20":-0.15,"m5":-0.08,"p5":0.08,"p20":0.15,"p50":0.25},
    {"g":60,"f":"B","r":"2.0km","h":1.62,"m50":-1.4,"m20":-0.9,"m5":-0.4,"p5":0.4,"p20":0.9,"p50":1.4},
    {"g":60,"f":"B","r":"2.0km","h":1.45,"m50":-2,"m20":-1.3,"m5":-0.6,"p5":0.6,"p20":1.4,"p50":2.1},
    {"g":60,"f":"B","r":"2.0km","h":1.15,"m50":-1.8,"m20":-1.1,"m5":-0.5,"p5":0.5,"p20":1.2,"p50":1.7},
    {"g":60,"f":"B","r":"2.0km","h":0.8,"m50":-1.3,"m20":-0.8,"m5":-0.4,"p5":0.4,"p20":0.8,"p50":1.2},
    {"g":60,"f":"B","r":"2.0km","h":0.4,"m50":-0.7,"m20":-0.5,"m5":-0.2,"p5":0.2,"p20":0.4,"p50":0.6},
    {"g":60,"f":"B","r":"2.0km","h":0,"m50":-0.1,"m20":-0.1,"m5":0,"p5":0,"p20":0.1,"p50":0.1},

    {"g":60,"f":"B","r":"10.0km","h":3.6,"m50":-0.25,"m20":-0.15,"m5":-0.08,"p5":0.08,"p20":0.15,"p50":0.25},
    {"g":60,"f":"B","r":"10.0km","h":1.75,"m50":-0.25,"m20":-0.15,"m5":-0.08,"p5":0.08,"p20":0.15,"p50":0.25},
    {"g":60,"f":"B","r":"10.0km","h":1.65,"m50":-2.5,"m20":-1.5,"m5":-0.6,"p5":0.6,"p20":1.5,"p50":2},
    {"g":60,"f":"B","r":"10.0km","h":1.45,"m50":-3.6,"m20":-2.2,"m5":-0.9,"p5":0.8,"p20":1.8,"p50":2.8},
    {"g":60,"f":"B","r":"10.0km","h":1.2,"m50":-3.3,"m20":-2,"m5":-0.8,"p5":0.8,"p20":1.8,"p50":2.5},
    {"g":60,"f":"B","r":"10.0km","h":0.9,"m50":-2.7,"m20":-1.7,"m5":-0.7,"p5":0.7,"p20":1.5,"p50":2},
    {"g":60,"f":"B","r":"10.0km","h":0.5,"m50":-1.6,"m20":-1,"m5":-0.5,"p5":0.5,"p20":0.9,"p50":1.2},
    {"g":60,"f":"B","r":"10.0km","h":0.2,"m50":-0.7,"m20":-0.5,"m5":-0.2,"p5":0.2,"p20":0.4,"p50":0.5},
    {"g":60,"f":"B","r":"10.0km","h":0,"m50":-0.1,"m20":-0.1,"m5":0,"p5":0,"p20":0.1,"p50":0.1},

    {"g":60,"f":"B","r":"100.0km","h":3.6,"m50":-0.25,"m20":-0.15,"m5":-0.08,"p5":0.08,"p20":0.15,"p50":0.25},
    {"g":60,"f":"B","r":"100.0km","h":1.8,"m50":-0.25,"m20":-0.15,"m5":-0.08,"p5":0.08,"p20":0.15,"p50":0.25},
    {"g":60,"f":"B","r":"100.0km","h":1.7,"m50":-2,"m20":-1.2,"m5":-0.5,"p5":0.5,"p20":1,"p50":1.2},
    {"g":60,"f":"B","r":"100.0km","h":1.55,"m50":-4.2,"m20":-2.5,"m5":-1,"p5":0.8,"p20":2,"p50":2.5},
    {"g":60,"f":"B","r":"100.0km","h":1.45,"m50":-4.5,"m20":-2.8,"m5":-1.1,"p5":1,"p20":2.6,"p50":3.2},
    {"g":60,"f":"B","r":"100.0km","h":1.3,"m50":-4.2,"m20":-2.6,"m5":-1,"p5":1,"p20":2,"p50":2.3},
    {"g":60,"f":"B","r":"100.0km","h":1,"m50":-3.2,"m20":-2.2,"m5":-0.9,"p5":0.9,"p20":1.4,"p50":1.6},
    {"g":60,"f":"B","r":"100.0km","h":0.6,"m50":-3,"m20":-2,"m5":-0.8,"p5":0.7,"p20":1,"p50":1.2},
    {"g":60,"f":"B","r":"100.0km","h":0.3,"m50":-1.8,"m20":-1.2,"m5":-0.6,"p5":0.5,"p20":0.7,"p50":0.8},
    {"g":60,"f":"B","r":"100.0km","h":0,"m50":-0.2,"m20":-0.1,"m5":0,"p5":0,"p20":0.1,"p50":0.2},

    {"g":60,"f":"C","r":"0.5km","h":3.6,"m50":-0.25,"m20":-0.15,"m5":-0.08,"p5":0.08,"p20":0.15,"p50":0.25},
    {"g":60,"f":"C","r":"0.5km","h":1.6,"m50":-0.25,"m20":-0.15,"m5":-0.08,"p5":0.08,"p20":0.15,"p50":0.25},
    {"g":60,"f":"C","r":"0.5km","h":1.5,"m50":-1.2,"m20":-0.7,"m5":-0.3,"p5":0.3,"p20":0.7,"p50":1.1},
    {"g":60,"f":"C","r":"0.5km","h":1.34,"m50":-1.9,"m20":-1.2,"m5":-0.5,"p5":0.5,"p20":1.2,"p50":1.8},
    {"g":60,"f":"C","r":"0.5km","h":1.15,"m50":-1.5,"m20":-1,"m5":-0.4,"p5":0.4,"p20":0.9,"p50":1.3},
    {"g":60,"f":"C","r":"0.5km","h":0.9,"m50":-1.3,"m20":-0.8,"m5":-0.4,"p5":0.4,"p20":0.8,"p50":1},
    {"g":60,"f":"C","r":"0.5km","h":0.6,"m50":-1.3,"m20":-0.8,"m5":-0.4,"p5":0.4,"p20":0.8,"p50":1.1},
    {"g":60,"f":"C","r":"0.5km","h":0.35,"m50":-0.7,"m20":-0.5,"m5":-0.2,"p5":0.2,"p20":0.5,"p50":0.7},
    {"g":60,"f":"C","r":"0.5km","h":0,"m50":-0.2,"m20":-0.1,"m5":0,"p5":0,"p20":0.1,"p50":0.2},

    {"g":60,"f":"C","r":"2.0km","h":3.6,"m50":-0.25,"m20":-0.15,"m5":-0.08,"p5":0.08,"p20":0.15,"p50":0.25},
    {"g":60,"f":"C","r":"2.0km","h":1.62,"m50":-0.25,"m20":-0.15,"m5":-0.08,"p5":0.08,"p20":0.15,"p50":0.25},
    {"g":60,"f":"C","r":"2.0km","h":1.52,"m50":-1.5,"m20":-0.9,"m5":-0.4,"p5":0.4,"p20":1,"p50":1.6},
    {"g":60,"f":"C","r":"2.0km","h":1.37,"m50":-2.7,"m20":-1.7,"m5":-0.7,"p5":0.7,"p20":1.8,"p50":3},
    {"g":60,"f":"C","r":"2.0km","h":1.15,"m50":-2.3,"m20":-1.4,"m5":-0.6,"p5":0.6,"p20":1.4,"p50":2.2},
    {"g":60,"f":"C","r":"2.0km","h":0.9,"m50":-2.2,"m20":-1.4,"m5":-0.6,"p5":0.6,"p20":1.2,"p50":1.8},
    {"g":60,"f":"C","r":"2.0km","h":0.6,"m50":-2.5,"m20":-1.5,"m5":-0.6,"p5":0.6,"p20":1.3,"p50":2},
    {"g":60,"f":"C","r":"2.0km","h":0.3,"m50":-1.3,"m20":-0.8,"m5":-0.4,"p5":0.4,"p20":0.8,"p50":1.2},
    {"g":60,"f":"C","r":"2.0km","h":0,"m50":-0.2,"m20":-0.1,"m5":0,"p5":0,"p20":0.1,"p50":0.2},

    {"g":60,"f":"C","r":"10.0km","h":3.6,"m50":-0.25,"m20":-0.15,"m5":-0.08,"p5":0.08,"p20":0.15,"p50":0.25},
    {"g":60,"f":"C","r":"10.0km","h":1.72,"m50":-0.25,"m20":-0.15,"m5":-0.08,"p5":0.08,"p20":0.15,"p50":0.25},
    {"g":60,"f":"C","r":"10.0km","h":1.6,"m50":-2.5,"m20":-1.5,"m5":-0.7,"p5":0.7,"p20":1.5,"p50":2.2},
    {"g":60,"f":"C","r":"10.0km","h":1.41,"m50":-4.4,"m20":-2.8,"m5":-1.1,"p5":1,"p20":2.6,"p50":4.1},
    {"g":60,"f":"C","r":"10.0km","h":1.2,"m50":-3.8,"m20":-2.4,"m5":-1,"p5":0.9,"p20":1.8,"p50":2.6},
    {"g":60,"f":"C","r":"10.0km","h":0.95,"m50":-4,"m20":-2.5,"m5":-1,"p5":0.9,"p20":1.6,"p50":2},
    {"g":60,"f":"C","r":"10.0km","h":0.7,"m50":-3.5,"m20":-2.2,"m5":-0.9,"p5":0.8,"p20":1.4,"p50":1.8},
    {"g":60,"f":"C","r":"10.0km","h":0.5,"m50":-3.3,"m20":-2,"m5":-0.8,"p5":0.7,"p20":1.1,"p50":1.4},
    {"g":60,"f":"C","r":"10.0km","h":0.25,"m50":-1.5,"m20":-1,"m5":-0.5,"p5":0.4,"p20":0.6,"p50":0.8},
    {"g":60,"f":"C","r":"10.0km","h":0,"m50":-0.2,"m20":-0.1,"m5":0,"p5":0,"p20":0.1,"p50":0.2},

    {"g":60,"f":"C","r":"100.0km","h":3.6,"m50":0.25,"m20":0.35,"m5":0.42,"p5":0.58,"p20":0.65,"p50":0.75},
    {"g":60,"f":"C","r":"100.0km","h":3.15,"m50":0.55,"m20":0.65,"m5":0.72,"p5":0.88,"p20":0.95,"p50":1.05},
    {"g":60,"f":"C","r":"100.0km","h":2.85,"m50":-0.35,"m20":-0.25,"m5":-0.18,"p5":-0.02,"p20":0.05,"p50":0.15},
    {"g":60,"f":"C","r":"100.0km","h":2.45,"m50":-0.05,"m20":0.05,"m5":0.12,"p5":0.28,"p20":0.35,"p50":0.45},
    {"g":60,"f":"C","r":"100.0km","h":1.95,"m50":0.55,"m20":0.65,"m5":0.72,"p5":0.88,"p20":0.95,"p50":1.05},
    {"g":60,"f":"C","r":"100.0km","h":1.75,"m50":0.15,"m20":0.25,"m5":0.32,"p5":0.48,"p20":0.55,"p50":0.65},
    {"g":60,"f":"C","r":"100.0km","h":1.62,"m50":-2,"m20":-1.2,"m5":-0.5,"p5":0.4,"p20":1.2,"p50":1.8},
    {"g":60,"f":"C","r":"100.0km","h":1.39,"m50":-5.5,"m20":-3.3,"m5":-1.5,"p5":1.2,"p20":3.2,"p50":4},
    {"g":60,"f":"C","r":"100.0km","h":1.3,"m50":-5,"m20":-3,"m5":-1.4,"p5":1.2,"p20":3.5,"p50":4.1},
    {"g":60,"f":"C","r":"100.0km","h":1.11,"m50":-3.5,"m20":-2.2,"m5":-1,"p5":1,"p20":2,"p50":2.5},
    {"g":60,"f":"C","r":"100.0km","h":0.9,"m50":-4,"m20":-2.5,"m5":-1.1,"p5":0.9,"p20":1.4,"p50":1.6},
    {"g":60,"f":"C","r":"100.0km","h":0.66,"m50":-4.5,"m20":-2.8,"m5":-1.2,"p5":0.8,"p20":1,"p50":1.2},
    {"g":60,"f":"C","r":"100.0km","h":0.4,"m50":-2.8,"m20":-1.8,"m5":-0.8,"p5":0.6,"p20":0.8,"p50":0.9},
    {"g":60,"f":"C","r":"100.0km","h":0.1,"m50":-0.5,"m20":-0.3,"m5":-0.2,"p5":0.2,"p20":0.3,"p50":0.4},
    {"g":60,"f":"C","r":"100.0km","h":0,"m50":-0.2,"m20":-0.1,"m5":0,"p5":0.1,"p20":0.2,"p50":0.3},

    {"g":60,"f":"D","r":"0.5km","h":12.6,"m50":-0.25,"m20":-0.15,"m5":-0.08,"p5":0.08,"p20":0.15,"p50":0.25},
    {"g":60,"f":"D","r":"0.5km","h":10.5,"m50":-0.25,"m20":-0.15,"m5":-0.08,"p5":0.08,"p20":0.15,"p50":0.25},
    {"g":60,"f":"D","r":"0.5km","h":10.2,"m50":-1.2,"m20":-0.8,"m5":-0.3,"p5":0.4,"p20":0.8,"p50":1.1},
    {"g":60,"f":"D","r":"0.5km","h":9,"m50":-1.4,"m20":-0.9,"m5":-0.4,"p5":0.4,"p20":0.9,"p50":1.2},
    {"g":60,"f":"D","r":"0.5km","h":7.5,"m50":-1.5,"m20":-1,"m5":-0.4,"p5":0.4,"p20":0.9,"p50":1.2},
    {"g":60,"f":"D","r":"0.5km","h":6.5,"m50":-0.8,"m20":-0.5,"m5":-0.2,"p5":0.3,"p20":0.6,"p50":0.8},
    {"g":60,"f":"D","r":"0.5km","h":5.7,"m50":-0.2,"m20":-0.1,"m5":0,"p5":0.1,"p20":0.1,"p50":0.2},
    {"g":60,"f":"D","r":"0.5km","h":5.2,"m50":-1.2,"m20":-0.8,"m5":-0.3,"p5":0.3,"p20":0.9,"p50":1.4},
    {"g":60,"f":"D","r":"0.5km","h":4.2,"m50":-1.5,"m20":-1,"m5":-0.4,"p5":0.4,"p20":1.2,"p50":1.8},
    {"g":60,"f":"D","r":"0.5km","h":3,"m50":-1.6,"m20":-1.1,"m5":-0.5,"p5":0.5,"p20":1.2,"p50":1.8},
    {"g":60,"f":"D","r":"0.5km","h":1.8,"m50":-3.2,"m20":-2,"m5":-0.8,"p5":0.8,"p20":2,"p50":2.8},
    {"g":60,"f":"D","r":"0.5km","h":1,"m50":-2,"m20":-1.3,"m5":-0.6,"p5":0.6,"p20":1.4,"p50":2},
    {"g":60,"f":"D","r":"0.5km","h":0.2,"m50":-0.4,"m20":-0.3,"m5":-0.1,"p5":0.1,"p20":0.3,"p50":0.4},
    {"g":60,"f":"D","r":"0.5km","h":0,"m50":-0.2,"m20":-0.1,"m5":0,"p5":0,"p20":0.1,"p50":0.2},

    {"g":60,"f":"D","r":"2.0km","h":12.6,"m50":-0.25,"m20":-0.15,"m5":-0.08,"p5":0.08,"p20":0.15,"p50":0.25},
    {"g":60,"f":"D","r":"2.0km","h":10.5,"m50":-0.25,"m20":-0.15,"m5":-0.08,"p5":0.08,"p20":0.15,"p50":0.25},
    {"g":60,"f":"D","r":"2.0km","h":10.3,"m50":-1.2,"m20":-0.8,"m5":-0.3,"p5":0.3,"p20":0.8,"p50":1},
    {"g":60,"f":"D","r":"2.0km","h":9.5,"m50":-2.1,"m20":-1.3,"m5":-0.5,"p5":0.5,"p20":1.1,"p50":1.5},
    {"g":60,"f":"D","r":"2.0km","h":8,"m50":-1.8,"m20":-1.1,"m5":-0.5,"p5":0.5,"p20":1.1,"p50":1.5},
    {"g":60,"f":"D","r":"2.0km","h":6.6,"m50":-1.2,"m20":-0.8,"m5":-0.3,"p5":0.4,"p20":0.9,"p50":1.2},
    {"g":60,"f":"D","r":"2.0km","h":5.8,"m50":-0.2,"m20":-0.1,"m5":0,"p5":0,"p20":0.1,"p50":0.2},
    {"g":60,"f":"D","r":"2.0km","h":5.2,"m50":-1.5,"m20":-1,"m5":-0.4,"p5":0.4,"p20":1,"p50":1.5},
    {"g":60,"f":"D","r":"2.0km","h":4.3,"m50":-2,"m20":-1.3,"m5":-0.5,"p5":0.5,"p20":1.3,"p50":2},
    {"g":60,"f":"D","r":"2.0km","h":3,"m50":-1.6,"m20":-1.1,"m5":-0.5,"p5":0.5,"p20":1.2,"p50":1.8},
    {"g":60,"f":"D","r":"2.0km","h":1.8,"m50":-3.2,"m20":-2,"m5":-0.8,"p5":0.8,"p20":1.8,"p50":2.6},
    {"g":60,"f":"D","r":"2.0km","h":1,"m50":-2,"m20":-1.3,"m5":-0.6,"p5":0.6,"p20":1.3,"p50":1.8},
    {"g":60,"f":"D","r":"2.0km","h":0.2,"m50":-0.4,"m20":-0.3,"m5":-0.1,"p5":0.1,"p20":0.3,"p50":0.4},
    {"g":60,"f":"D","r":"2.0km","h":0,"m50":-0.2,"m20":-0.1,"m5":0,"p5":0,"p20":0.1,"p50":0.2},

    {"g":60,"f":"D","r":"10.0km","h":12.6,"m50":-0.25,"m20":-0.15,"m5":-0.08,"p5":0.08,"p20":0.15,"p50":0.25},
    {"g":60,"f":"D","r":"10.0km","h":10.5,"m50":-0.25,"m20":-0.15,"m5":-0.08,"p5":0.08,"p20":0.15,"p50":0.25},
    {"g":60,"f":"D","r":"10.0km","h":10.3,"m50":-1.2,"m20":-0.8,"m5":-0.3,"p5":0.3,"p20":0.8,"p50":1},
    {"g":60,"f":"D","r":"10.0km","h":9.5,"m50":-2.4,"m20":-1.5,"m5":-0.6,"p5":0.5,"p20":1,"p50":1.3},
    {"g":60,"f":"D","r":"10.0km","h":8,"m50":-2.3,"m20":-1.4,"m5":-0.6,"p5":0.5,"p20":1,"p50":1.4},
    {"g":60,"f":"D","r":"10.0km","h":6.6,"m50":-1.5,"m20":-1,"m5":-0.4,"p5":0.5,"p20":1,"p50":1.3},
    {"g":60,"f":"D","r":"10.0km","h":5.8,"m50":-0.2,"m20":-0.1,"m5":0,"p5":0.1,"p20":0.2,"p50":0.3},
    {"g":60,"f":"D","r":"10.0km","h":5.2,"m50":-2,"m20":-1.3,"m5":-0.5,"p5":0.5,"p20":1.5,"p50":2},
    {"g":60,"f":"D","r":"10.0km","h":4.5,"m50":-2.5,"m20":-1.6,"m5":-0.6,"p5":0.6,"p20":1.8,"p50":2.3},
    {"g":60,"f":"D","r":"10.0km","h":3,"m50":-2,"m20":-1.3,"m5":-0.5,"p5":0.5,"p20":1.5,"p50":2},
    {"g":60,"f":"D","r":"10.0km","h":1.7,"m50":-3.5,"m20":-2.2,"m5":-0.9,"p5":0.8,"p20":1.3,"p50":1.6},
    {"g":60,"f":"D","r":"10.0km","h":0.8,"m50":-1.8,"m20":-1.2,"m5":-0.5,"p5":0.5,"p20":0.9,"p50":1.2},
    {"g":60,"f":"D","r":"10.0km","h":0.1,"m50":-0.3,"m20":-0.2,"m5":-0.1,"p5":0.1,"p20":0.2,"p50":0.3},
    {"g":60,"f":"D","r":"10.0km","h":0,"m50":-0.2,"m20":-0.1,"m5":0,"p5":0,"p20":0.1,"p50":0.2},

    {"g":60,"f":"D","r":"100.0km","h":12.6,"m50":-0.25,"m20":-0.15,"m5":-0.08,"p5":0.08,"p20":0.15,"p50":0.25},
    {"g":60,"f":"D","r":"100.0km","h":10.6,"m50":-0.25,"m20":-0.15,"m5":-0.08,"p5":0.08,"p20":0.15,"p50":0.25},
    {"g":60,"f":"D","r":"100.0km","h":10.4,"m50":-1.5,"m20":-1,"m5":-0.3,"p5":0.3,"p20":0.8,"p50":1},
    {"g":60,"f":"D","r":"100.0km","h":9.5,"m50":-3.2,"m20":-2,"m5":-0.8,"p5":0.6,"p20":1.3,"p50":1.6},
    {"g":60,"f":"D","r":"100.0km","h":8,"m50":-3,"m20":-1.9,"m5":-0.8,"p5":0.6,"p20":1.3,"p50":1.6},
    {"g":60,"f":"D","r":"100.0km","h":6.8,"m50":-2.5,"m20":-1.6,"m5":-0.7,"p5":0.5,"p20":1.2,"p50":1.5},
    {"g":60,"f":"D","r":"100.0km","h":6,"m50":-0.8,"m20":-0.5,"m5":-0.2,"p5":0.2,"p20":0.4,"p50":0.6},
    {"g":60,"f":"D","r":"100.0km","h":5.4,"m50":-0.2,"m20":-0.1,"m5":0,"p5":0.1,"p20":0.2,"p50":0.3},
    {"g":60,"f":"D","r":"100.0km","h":4.9,"m50":-2,"m20":-1.3,"m5":-0.6,"p5":0.6,"p20":1.4,"p50":1.8},
    {"g":60,"f":"D","r":"100.0km","h":4.5,"m50":-4.5,"m20":-2.8,"m5":-1.2,"p5":0.7,"p20":1.5,"p50":1.8},
    {"g":60,"f":"D","r":"100.0km","h":3.5,"m50":-3,"m20":-2,"m5":-0.9,"p5":0.7,"p20":1.5,"p50":1.8},
    {"g":60,"f":"D","r":"100.0km","h":2.5,"m50":-3,"m20":-2,"m5":-0.9,"p5":0.7,"p20":1.5,"p50":1.8},
    {"g":60,"f":"D","r":"100.0km","h":1.8,"m50":-4.5,"m20":-2.8,"m5":-1.2,"p5":0.7,"p20":1.5,"p50":1.9},
    {"g":60,"f":"D","r":"100.0km","h":1,"m50":-2.5,"m20":-1.7,"m5":-0.8,"p5":0.6,"p20":1.2,"p50":1.5},
    {"g":60,"f":"D","r":"100.0km","h":0.1,"m50":-0.3,"m20":-0.2,"m5":-0.1,"p5":0.1,"p20":0.2,"p50":0.3},
    {"g":60,"f":"D","r":"100.0km","h":0,"m50":-0.2,"m20":-0.1,"m5":0,"p5":0,"p20":0.1,"p50":0.2}
  ]},
  "center": true,
  "spacing": 16,
  "vconcat": [
    {
      "title": {"text": "Cloud field", "orient": "left", "anchor": "middle", "fontSize": 25, "offset": -5},
      "spacing": 16,
      "vconcat": [
        {
          "title": {"text": "sza = 0º", "orient": "left", "anchor": "middle", "fontSize": 25, "offset": 16},
          "vconcat": [
            {
              "transform": [{"filter": "datum.g == 0 && datum.f == 'A'"}],
              "facet": {
                "row": {"field": "f", "type": "nominal", "header": {"title": null, "labelAngle": 0, "labelAlign": "right", "labelPadding": 4}},
                "column": {"field": "r", "type": "nominal", "sort": ["0.5km", "2.0km", "10.0km", "100.0km"], "header": null}
              },
              "spec": {
                "width": 168, "height": 131,
                "encoding": {"y": {"field": "h", "type": "quantitative", "scale": {"domain": [0, 3.6]}, "axis": {"orient": "right", "title": null, "values": [0, 1.8, 3.6], "labelExpr": "datum.value == 1.8 ? 'km' : datum.value == 0 ? '0' : '3.6'"}}},
                "layer": [
                  {"mark": {"type": "area", "orient": "horizontal", "color": "#ffffb8"},
                   "encoding": {"x": {"field": "m5", "type": "quantitative", "scale": {"domain": [-20, 20]}, "axis": null}, "x2": {"field": "p5"}}},
                  {"transform": [{"fold": ["m50", "m20", "m5", "p5", "p20", "p50"], "as": ["pct", "v"]}],
                   "mark": {"type": "line", "strokeWidth": 1.2},
                   "encoding": {
                     "x": {"field": "v", "type": "quantitative", "scale": {"domain": [-20, 20]}, "axis": null},
                     "color": {"field": "pct", "type": "nominal", "scale": {"domain": ["m50", "m20", "m5", "p5", "p20", "p50"], "range": ["#1c1c5e", "#3b3bb0", "#1a1aff", "#ff7a1a", "#ff4a1a", "#d42020"]}, "legend": null},
                     "order": {"field": "h", "type": "quantitative"}}}
                ]
              }
            },
            {
              "transform": [{"filter": "datum.g == 0 && datum.f == 'B'"}],
              "facet": {
                "row": {"field": "f", "type": "nominal", "header": {"title": null, "labelAngle": 0, "labelAlign": "right", "labelPadding": 4}},
                "column": {"field": "r", "type": "nominal", "sort": ["0.5km", "2.0km", "10.0km", "100.0km"], "header": null}
              },
              "spec": {
                "width": 168, "height": 131,
                "encoding": {"y": {"field": "h", "type": "quantitative", "scale": {"domain": [0, 3.6]}, "axis": {"orient": "right", "title": null, "values": [0, 1.8, 3.6], "labelExpr": "datum.value == 1.8 ? 'km' : datum.value == 0 ? '0' : '3.6'"}}},
                "layer": [
                  {"mark": {"type": "area", "orient": "horizontal", "color": "#ffffb8"},
                   "encoding": {"x": {"field": "m5", "type": "quantitative", "scale": {"domain": [-20, 20]}, "axis": null}, "x2": {"field": "p5"}}},
                  {"transform": [{"fold": ["m50", "m20", "m5", "p5", "p20", "p50"], "as": ["pct", "v"]}],
                   "mark": {"type": "line", "strokeWidth": 1.2},
                   "encoding": {
                     "x": {"field": "v", "type": "quantitative", "scale": {"domain": [-20, 20]}, "axis": null},
                     "color": {"field": "pct", "type": "nominal", "scale": {"domain": ["m50", "m20", "m5", "p5", "p20", "p50"], "range": ["#1c1c5e", "#3b3bb0", "#1a1aff", "#ff7a1a", "#ff4a1a", "#d42020"]}, "legend": null},
                     "order": {"field": "h", "type": "quantitative"}}}
                ]
              }
            },
            {
              "transform": [{"filter": "datum.g == 0 && datum.f == 'C'"}],
              "facet": {
                "row": {"field": "f", "type": "nominal", "header": {"title": null, "labelAngle": 0, "labelAlign": "right", "labelPadding": 4}},
                "column": {"field": "r", "type": "nominal", "sort": ["0.5km", "2.0km", "10.0km", "100.0km"], "header": null}
              },
              "spec": {
                "width": 168, "height": 131,
                "encoding": {"y": {"field": "h", "type": "quantitative", "scale": {"domain": [0, 3.6]}, "axis": {"orient": "right", "title": null, "values": [0, 1.8, 3.6], "labelExpr": "datum.value == 1.8 ? 'km' : datum.value == 0 ? '0' : '3.6'"}}},
                "layer": [
                  {"mark": {"type": "area", "orient": "horizontal", "color": "#ffffb8"},
                   "encoding": {"x": {"field": "m5", "type": "quantitative", "scale": {"domain": [-20, 20]}, "axis": null}, "x2": {"field": "p5"}}},
                  {"transform": [{"fold": ["m50", "m20", "m5", "p5", "p20", "p50"], "as": ["pct", "v"]}],
                   "mark": {"type": "line", "strokeWidth": 1.2},
                   "encoding": {
                     "x": {"field": "v", "type": "quantitative", "scale": {"domain": [-20, 20]}, "axis": null},
                     "color": {"field": "pct", "type": "nominal", "scale": {"domain": ["m50", "m20", "m5", "p5", "p20", "p50"], "range": ["#1c1c5e", "#3b3bb0", "#1a1aff", "#ff7a1a", "#ff4a1a", "#d42020"]}, "legend": null},
                     "order": {"field": "h", "type": "quantitative"}}}
                ]
              }
            },
            {
              "transform": [{"filter": "datum.g == 0 && datum.f == 'D'"}],
              "facet": {
                "row": {"field": "f", "type": "nominal", "header": {"title": null, "labelAngle": 0, "labelAlign": "right", "labelPadding": 4}},
                "column": {"field": "r", "type": "nominal", "sort": ["0.5km", "2.0km", "10.0km", "100.0km"], "header": null}
              },
              "spec": {
                "width": 168, "height": 131,
                "encoding": {"y": {"field": "h", "type": "quantitative", "scale": {"domain": [0, 12.6]}, "axis": {"orient": "right", "title": null, "values": [0, 6.3, 12.6], "labelExpr": "datum.value == 6.3 ? 'km' : datum.value == 0 ? '0' : '12.6'"}}},
                "layer": [
                  {"mark": {"type": "area", "orient": "horizontal", "color": "#ffffb8"},
                   "encoding": {"x": {"field": "m5", "type": "quantitative", "scale": {"domain": [-20, 20]}, "axis": {"title": null, "values": [-20, 20], "labelExpr": "datum.value < 0 ? '-20' : '20'", "labelPadding": 3}}, "x2": {"field": "p5"}}},
                  {"transform": [{"fold": ["m50", "m20", "m5", "p5", "p20", "p50"], "as": ["pct", "v"]}],
                   "mark": {"type": "line", "strokeWidth": 1.2},
                   "encoding": {
                     "x": {"field": "v", "type": "quantitative", "scale": {"domain": [-20, 20]}, "axis": {"title": null, "values": [-20, 20], "labelExpr": "datum.value < 0 ? '-20' : '20'", "labelPadding": 3}},
                     "color": {"field": "pct", "type": "nominal", "scale": {"domain": ["m50", "m20", "m5", "p5", "p20", "p50"], "range": ["#1c1c5e", "#3b3bb0", "#1a1aff", "#ff7a1a", "#ff4a1a", "#d42020"]}, "legend": null},
                     "order": {"field": "h", "type": "quantitative"}}}
                ]
              }
            }
          ]
        },
        {
          "title": {"text": "sza = 60º", "orient": "left", "anchor": "middle", "fontSize": 25, "offset": 16},
          "vconcat": [
            {
              "transform": [{"filter": "datum.g == 60 && datum.f == 'A'"}],
              "facet": {
                "row": {"field": "f", "type": "nominal", "header": {"title": null, "labelAngle": 0, "labelAlign": "right", "labelPadding": 4}},
                "column": {"field": "r", "type": "nominal", "sort": ["0.5km", "2.0km", "10.0km", "100.0km"], "header": null}
              },
              "spec": {
                "width": 168, "height": 131,
                "encoding": {"y": {"field": "h", "type": "quantitative", "scale": {"domain": [0, 3.6]}, "axis": {"orient": "right", "title": null, "values": [0, 1.8, 3.6], "labelExpr": "datum.value == 1.8 ? 'km' : datum.value == 0 ? '0' : '3.6'"}}},
                "layer": [
                  {"mark": {"type": "area", "orient": "horizontal", "color": "#ffffb8"},
                   "encoding": {"x": {"field": "m5", "type": "quantitative", "scale": {"domain": [-10, 10]}, "axis": null}, "x2": {"field": "p5"}}},
                  {"transform": [{"fold": ["m50", "m20", "m5", "p5", "p20", "p50"], "as": ["pct", "v"]}],
                   "mark": {"type": "line", "strokeWidth": 1.2},
                   "encoding": {
                     "x": {"field": "v", "type": "quantitative", "scale": {"domain": [-10, 10]}, "axis": null},
                     "color": {"field": "pct", "type": "nominal", "scale": {"domain": ["m50", "m20", "m5", "p5", "p20", "p50"], "range": ["#1c1c5e", "#3b3bb0", "#1a1aff", "#ff7a1a", "#ff4a1a", "#d42020"]}, "legend": null},
                     "order": {"field": "h", "type": "quantitative"}}}
                ]
              }
            },
            {
              "transform": [{"filter": "datum.g == 60 && datum.f == 'B'"}],
              "facet": {
                "row": {"field": "f", "type": "nominal", "header": {"title": null, "labelAngle": 0, "labelAlign": "right", "labelPadding": 4}},
                "column": {"field": "r", "type": "nominal", "sort": ["0.5km", "2.0km", "10.0km", "100.0km"], "header": null}
              },
              "spec": {
                "width": 168, "height": 131,
                "encoding": {"y": {"field": "h", "type": "quantitative", "scale": {"domain": [0, 3.6]}, "axis": {"orient": "right", "title": null, "values": [0, 1.8, 3.6], "labelExpr": "datum.value == 1.8 ? 'km' : datum.value == 0 ? '0' : '3.6'"}}},
                "layer": [
                  {"mark": {"type": "area", "orient": "horizontal", "color": "#ffffb8"},
                   "encoding": {"x": {"field": "m5", "type": "quantitative", "scale": {"domain": [-10, 10]}, "axis": null}, "x2": {"field": "p5"}}},
                  {"transform": [{"fold": ["m50", "m20", "m5", "p5", "p20", "p50"], "as": ["pct", "v"]}],
                   "mark": {"type": "line", "strokeWidth": 1.2},
                   "encoding": {
                     "x": {"field": "v", "type": "quantitative", "scale": {"domain": [-10, 10]}, "axis": null},
                     "color": {"field": "pct", "type": "nominal", "scale": {"domain": ["m50", "m20", "m5", "p5", "p20", "p50"], "range": ["#1c1c5e", "#3b3bb0", "#1a1aff", "#ff7a1a", "#ff4a1a", "#d42020"]}, "legend": null},
                     "order": {"field": "h", "type": "quantitative"}}}
                ]
              }
            },
            {
              "transform": [{"filter": "datum.g == 60 && datum.f == 'C'"}],
              "facet": {
                "row": {"field": "f", "type": "nominal", "header": {"title": null, "labelAngle": 0, "labelAlign": "right", "labelPadding": 4}},
                "column": {"field": "r", "type": "nominal", "sort": ["0.5km", "2.0km", "10.0km", "100.0km"], "header": null}
              },
              "spec": {
                "width": 168, "height": 131,
                "encoding": {"y": {"field": "h", "type": "quantitative", "scale": {"domain": [0, 3.6]}, "axis": {"orient": "right", "title": null, "values": [0, 1.8, 3.6], "labelExpr": "datum.value == 1.8 ? 'km' : datum.value == 0 ? '0' : '3.6'"}}},
                "layer": [
                  {"mark": {"type": "area", "orient": "horizontal", "color": "#ffffb8"},
                   "encoding": {"x": {"field": "m5", "type": "quantitative", "scale": {"domain": [-10, 10]}, "axis": null}, "x2": {"field": "p5"}}},
                  {"transform": [{"fold": ["m50", "m20", "m5", "p5", "p20", "p50"], "as": ["pct", "v"]}],
                   "mark": {"type": "line", "strokeWidth": 1.2},
                   "encoding": {
                     "x": {"field": "v", "type": "quantitative", "scale": {"domain": [-10, 10]}, "axis": null},
                     "color": {"field": "pct", "type": "nominal", "scale": {"domain": ["m50", "m20", "m5", "p5", "p20", "p50"], "range": ["#1c1c5e", "#3b3bb0", "#1a1aff", "#ff7a1a", "#ff4a1a", "#d42020"]}, "legend": null},
                     "order": {"field": "h", "type": "quantitative"}}}
                ]
              }
            },
            {
              "transform": [{"filter": "datum.g == 60 && datum.f == 'D'"}],
              "facet": {
                "row": {"field": "f", "type": "nominal", "header": {"title": null, "labelAngle": 0, "labelAlign": "right", "labelPadding": 4}},
                "column": {"field": "r", "type": "nominal", "sort": ["0.5km", "2.0km", "10.0km", "100.0km"], "header": {"title": "model resolution", "titleOrient": "bottom", "labelOrient": "bottom", "labelFontSize": 21, "labelPadding": 20, "titlePadding": -3}}
              },
              "spec": {
                "width": 168, "height": 131,
                "encoding": {"y": {"field": "h", "type": "quantitative", "scale": {"domain": [0, 12.6]}, "axis": {"orient": "right", "title": null, "values": [0, 6.3, 12.6], "labelExpr": "datum.value == 6.3 ? 'km' : datum.value == 0 ? '0' : '12.6'"}}},
                "layer": [
                  {"mark": {"type": "area", "orient": "horizontal", "color": "#ffffb8"},
                   "encoding": {"x": {"field": "m5", "type": "quantitative", "scale": {"domain": [-10, 10]}, "axis": {"title": null, "values": [-10, 0, 10], "labelExpr": "datum.value == 0 ? 'K°' : datum.value < 0 ? '-10' : '10'", "labelPadding": 3}}, "x2": {"field": "p5"}}},
                  {"transform": [{"fold": ["m50", "m20", "m5", "p5", "p20", "p50"], "as": ["pct", "v"]}],
                   "mark": {"type": "line", "strokeWidth": 1.2},
                   "encoding": {
                     "x": {"field": "v", "type": "quantitative", "scale": {"domain": [-10, 10]}, "axis": {"title": null, "values": [-10, 0, 10], "labelExpr": "datum.value == 0 ? 'K°' : datum.value < 0 ? '-10' : '10'", "labelPadding": 3}},
                     "color": {"field": "pct", "type": "nominal", "scale": {"domain": ["m50", "m20", "m5", "p5", "p20", "p50"], "range": ["#1c1c5e", "#3b3bb0", "#1a1aff", "#ff7a1a", "#ff4a1a", "#d42020"]}, "legend": null},
                     "order": {"field": "h", "type": "quantitative"}}}
                ]
              }
            }
          ]
        }
      ]
    },
    {
      "data": {"values": [{"k": "-5"}, {"k": "-20"}, {"k": "-50"}, {"k": "100"}, {"k": "50"}, {"k": "20"}, {"k": "5"}]},
      "title": {"text": "percentile indicator", "fontSize": 25, "offset": 6, "dx": -24},
      "width": 534, "height": 17,
      "view": {"stroke": null},
      "mark": {"type": "bar", "stroke": "#444", "strokeWidth": 1, "cornerRadius": 3},
      "encoding": {
        "x": {"field": "k", "type": "nominal", "sort": null, "scale": {"paddingInner": 0.25, "paddingOuter": 1, "align": 0.24}, "axis": {"title": null, "labelAngle": 0, "labelFontSize": 21, "labelPadding": 6, "labelFlush": false}},
        "color": {"field": "k", "type": "nominal", "sort": null, "scale": {"domain": ["-5", "-20", "-50", "100", "50", "20", "5"], "range": ["#0a0aff", "#3a3aa8", "#0a0a50", "#ffff99", "#cc0000", "#ff3a00", "#ff6a10"]}, "legend": null}
      }
    }
  ]
}
